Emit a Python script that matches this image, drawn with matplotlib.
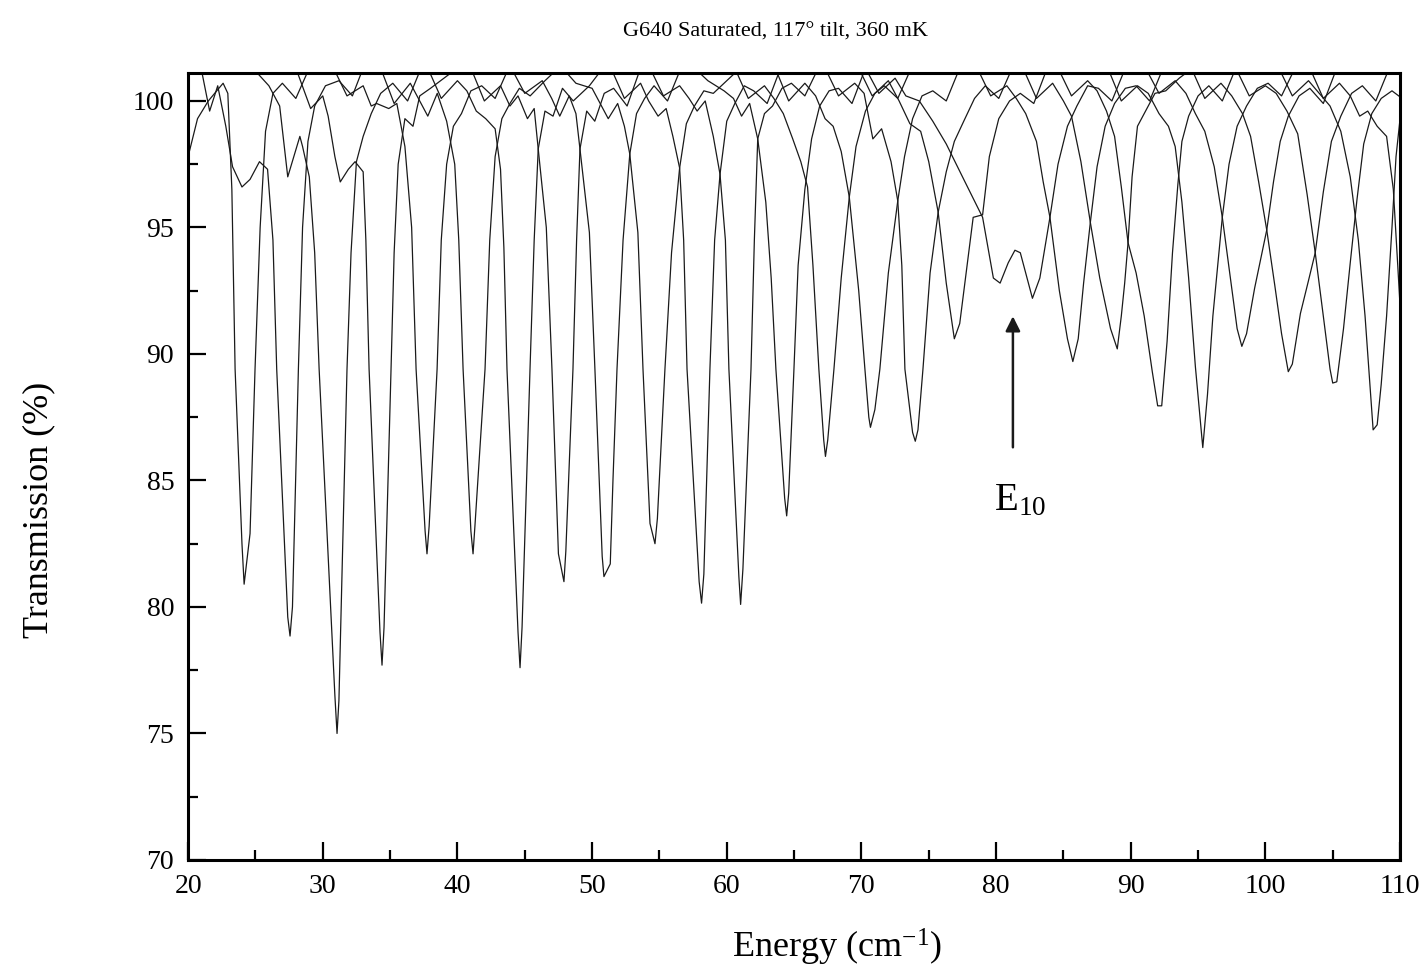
import matplotlib
matplotlib.use("Agg")
import matplotlib.pyplot as plt
from matplotlib.ticker import MultipleLocator

# transmission spectra, one dip per spectrum (energy in cm^-1, transmission in %)
x01 = [20.0, 20.7, 21.5, 22.6, 22.95, 23.25, 23.49, 24.0, 24.16, 24.6, 24.97, 25.35, 25.75, 26.3, 27.0, 28.0, 29.0]
y01 = [97.8, 99.3, 100.0, 100.7, 100.3, 96.5, 89.4, 82.5, 80.9, 82.9, 89.4, 95.0, 98.8, 100.3, 100.7, 100.1, 101.3]

x02 = [21.0, 21.6, 22.2, 22.8, 23.3, 24.0, 24.6, 25.3, 25.9, 26.3, 26.58, 27.4, 27.57, 27.75, 28.19, 28.5, 28.9, 29.4,
       30.2, 31.2, 32.2, 33.0]
y02 = [101.2, 99.6, 100.6, 99.0, 97.4, 96.6, 96.9, 97.6, 97.3, 94.5, 89.4, 79.6, 78.85, 80.0, 89.4, 95.0, 98.4, 99.8,
       100.6, 100.8, 100.2, 101.3]

x03 = [24.8, 26.0, 26.8, 27.4, 28.3, 28.5, 29.0, 29.4, 29.73, 30.9, 31.06, 31.2, 31.8, 32.1, 32.5, 33.0, 33.6, 34.3,
       35.2, 36.3, 37.3]
y03 = [101.3, 100.6, 99.8, 97.0, 98.6, 98.2, 97.0, 94.0, 89.4, 76.5, 75.0, 76.3, 89.4, 94.0, 97.6, 98.6, 99.5, 100.3,
       100.7, 100.0, 101.3]

x04 = [28.0, 29.1, 30.0, 30.4, 30.9, 31.3, 31.9, 32.4, 33.0, 33.2, 33.44, 34.25, 34.4, 34.55, 35.07, 35.3, 35.6, 36.1,
       36.7, 37.2, 38.0, 39.0, 40.0]
y04 = [101.3, 99.7, 100.2, 99.4, 97.8, 96.8, 97.3, 97.6, 97.2, 94.5, 89.4, 79.0, 77.7, 79.2, 89.4, 94.0, 97.5, 99.3,
       99.0, 100.2, 100.5, 100.9, 101.3]

x05 = [30.8, 31.8, 33.0, 33.6, 34.0, 34.9, 35.5, 36.1, 36.6, 36.93, 37.6, 37.74, 37.9, 38.49, 38.8, 39.2, 39.7, 40.3,
       41.0, 41.8, 42.8, 43.8]
y05 = [101.3, 100.2, 100.6, 99.8, 99.9, 99.7, 99.9, 98.2, 95.0, 89.4, 83.0, 82.1, 83.2, 89.4, 94.5, 97.5, 99.0, 99.5,
       100.4, 100.6, 100.1, 101.3]

x06 = [34.3, 35.3, 36.5, 37.2, 37.8, 38.5, 39.2, 39.8, 40.1, 40.42, 41.0, 41.16, 41.3, 42.05, 42.4, 42.8, 43.3, 43.9,
       44.6, 45.4, 46.5, 47.5]
y06 = [101.3, 99.9, 100.7, 100.0, 99.4, 100.3, 99.2, 97.5, 94.5, 89.4, 83.0, 82.1, 83.2, 89.4, 94.5, 97.8, 99.3, 99.9,
       100.5, 100.2, 100.8, 101.3]

x07 = [37.8, 38.8, 40.0, 40.7, 41.4, 42.1, 42.8, 43.2, 43.45, 43.68, 44.5, 44.65, 44.8, 45.39, 45.7, 46.0, 46.5, 47.1,
       47.8, 48.6, 49.8, 50.8]
y07 = [101.3, 100.1, 100.8, 100.4, 99.6, 99.3, 98.9, 97.3, 94.2, 89.4, 79.0, 77.6, 79.2, 89.4, 94.5, 98.1, 99.6, 99.4,
       100.5, 100.0, 100.6, 101.3]

x08 = [41.0, 42.0, 43.2, 43.9, 44.5, 45.2, 45.7, 46.0, 46.6, 47.02, 47.5, 47.91, 48.05, 48.58, 48.85, 49.1, 49.6, 50.2,
       50.9, 51.6, 52.6, 53.6]
y08 = [101.3, 100.0, 100.6, 99.8, 100.2, 99.3, 99.7, 98.1, 95.0, 89.4, 82.1, 81.0, 82.2, 89.4, 94.5, 98.1, 99.6, 99.2,
       100.3, 100.5, 99.8, 101.3]

x09 = [44.0, 45.0, 46.3, 47.0, 47.6, 48.3, 48.8, 49.1, 49.8, 50.21, 50.75, 50.88, 51.35, 51.55, 51.85, 52.3, 52.8, 53.3,
       53.9, 54.6, 55.6, 56.6]
y09 = [101.3, 100.3, 100.8, 100.1, 99.4, 100.2, 99.5, 98.1, 94.8, 89.4, 82.0, 81.2, 81.7, 85.0, 89.4, 94.5, 97.9, 99.5,
       100.1, 100.6, 100.0, 101.3]

x10 = [47.8, 48.8, 50.0, 50.6, 51.2, 51.9, 52.4, 52.8, 53.4, 53.78, 54.3, 54.67, 54.85, 55.41, 55.9, 56.5, 57.0, 57.6,
       58.3, 59.0, 60.0, 61.0]
y10 = [101.3, 100.7, 100.5, 99.9, 99.3, 99.9, 99.0, 97.9, 94.8, 89.4, 83.3, 82.5, 83.5, 89.4, 94.0, 97.35, 99.1, 99.8,
       100.4, 100.3, 100.8, 101.3]

x11 = [51.4, 52.4, 53.6, 54.2, 54.9, 55.5, 56.0, 56.5, 56.8, 57.05, 57.95, 58.13, 58.3, 58.75, 59.1, 59.5, 60.0, 60.6,
       61.3, 62.0, 63.0, 64.0]
y11 = [101.3, 100.1, 100.7, 100.0, 99.4, 99.7, 98.6, 97.35, 94.5, 89.4, 81.0, 80.15, 81.3, 89.4, 94.5, 97.1, 99.2, 99.9,
       100.6, 100.4, 99.9, 101.3]

x12 = [54.3, 55.3, 56.5, 57.2, 57.8, 58.4, 59.0, 59.5, 59.9, 60.16, 60.9, 61.03, 61.2, 61.8, 62.05, 62.3, 62.8, 63.4,
       64.1, 64.8, 65.8, 66.8]
y12 = [101.3, 100.2, 100.6, 100.1, 99.6, 100.0, 98.6, 97.1, 94.5, 89.4, 81.2, 80.1, 81.5, 89.4, 94.5, 98.5, 99.5, 99.8,
       100.5, 100.7, 100.2, 101.3]

x13 = [57.6, 58.6, 59.8, 60.5, 61.1, 61.7, 62.3, 62.9, 63.3, 63.65, 64.3, 64.45, 64.6, 64.99, 65.3, 65.8, 66.3, 66.9,
       67.6, 68.3, 69.3, 70.3]
y13 = [101.3, 100.8, 100.4, 100.1, 99.4, 99.9, 98.5, 96.0, 93.0, 89.4, 84.3, 83.6, 84.5, 89.4, 93.5, 96.5, 98.5, 99.8,
       100.4, 100.5, 99.9, 101.3]

x14 = [60.6, 61.6, 62.8, 63.5, 64.2, 64.9, 65.5, 66.0, 66.4, 66.84, 67.2, 67.33, 67.5, 67.96, 68.5, 69.1, 69.6, 70.3,
       71.0, 71.7, 72.7, 73.7]
y14 = [101.3, 100.1, 100.6, 100.1, 99.5, 98.5, 97.6, 96.6, 93.5, 89.4, 86.6, 85.95, 86.6, 89.4, 93.0, 96.2, 98.2, 99.6,
       100.3, 100.6, 100.1, 101.3]

x15 = [63.6, 64.6, 65.8, 66.6, 67.3, 67.9, 68.5, 69.1, 69.8, 70.26, 70.55, 70.67, 71.0, 71.37, 72.0, 72.7, 73.2, 73.8,
       74.5, 75.3, 76.3, 77.3]
y15 = [101.3, 100.0, 100.7, 100.2, 99.3, 99.0, 98.0, 96.2, 92.5, 89.4, 87.5, 87.1, 87.8, 89.4, 93.2, 96.05, 97.8, 99.3,
       100.2, 100.4, 100.0, 101.3]

x16 = [67.3, 68.3, 69.5, 70.2, 70.85, 71.5, 72.2, 72.7, 73.0, 73.23, 73.8, 74.0, 74.2, 74.57, 75.1, 75.7, 76.3, 76.9,
       77.6, 78.4, 79.2, 80.2, 81.2]
y16 = [101.3, 100.2, 100.7, 100.3, 98.5, 98.9, 97.6, 96.05, 93.5, 89.4, 86.9, 86.55, 87.0, 89.4, 93.2, 95.6, 97.2, 98.4,
       99.2, 100.1, 100.6, 100.1, 101.3]

x17 = [69.8, 70.8, 72.0, 72.8, 73.6, 74.4, 75.0, 75.7, 76.3, 76.9, 77.3, 77.8, 78.3, 79.0, 79.5, 80.2, 81.0, 81.8,
       82.8, 83.8]
y17 = [101.3, 100.2, 100.8, 100.0, 99.1, 98.8, 97.6, 95.6, 92.8, 90.6, 91.2, 93.3, 95.4, 95.5, 97.8, 99.3, 100.0, 100.3,
       99.9, 101.3]

# the E10 spectrum
x18 = [70.3, 71.3, 72.5, 73.3, 74.3, 75.3, 76.3, 77.6, 79.0, 79.8, 80.3, 80.9, 81.4, 81.8, 82.7, 83.25, 84.0, 84.6,
       85.3, 86.0, 86.8, 87.6, 88.6, 89.6]
y18 = [101.3, 100.3, 100.9, 100.2, 100.0, 99.2, 98.3, 96.9, 95.4, 93.0, 92.8, 93.6, 94.1, 94.0, 92.2, 93.0, 95.4, 97.5,
       99.0, 99.8, 100.6, 100.5, 100.0, 101.3]

x19 = [78.6, 79.6, 80.8, 81.5, 82.2, 83.0, 83.5, 84.0, 84.7, 85.3, 85.7, 86.1, 86.5, 87.0, 87.5, 88.1, 88.8, 89.6,
       90.4, 91.4, 92.4]
y19 = [101.3, 100.2, 100.6, 100.1, 99.5, 98.4, 96.8, 95.4, 92.5, 90.6, 89.7, 90.6, 92.8, 95.2, 97.4, 99.0, 99.9, 100.5,
       100.6, 100.0, 101.3]

x20 = [82.0, 83.0, 84.2, 85.0, 85.6, 86.3, 87.0, 87.7, 88.5, 89.0, 89.3, 89.55, 89.8, 90.1, 90.5, 91.1, 91.8, 92.6,
       93.6, 94.6]
y20 = [101.3, 100.1, 100.7, 100.0, 99.4, 97.6, 95.2, 93.0, 91.0, 90.2, 91.5, 92.8, 94.4, 97.0, 99.0, 99.6, 100.3, 100.4,
       100.9, 101.3]

x21 = [84.6, 85.6, 86.8, 87.5, 88.2, 88.8, 89.3, 89.8, 90.4, 91.0, 91.6, 92.0, 92.3, 92.7, 93.1, 93.5, 93.8, 94.3,
       95.0, 95.8, 96.8, 97.8]
y21 = [101.3, 100.2, 100.8, 100.4, 99.6, 98.6, 96.6, 94.4, 93.2, 91.5, 89.3, 87.95, 87.95, 90.5, 94.0, 96.7, 98.4, 99.4,
       100.2, 100.6, 100.0, 101.3]

x22 = [88.3, 89.3, 90.5, 91.3, 92.1, 92.8, 93.3, 93.8, 94.3, 94.8, 95.35, 95.7, 96.1, 96.8, 97.3, 97.9, 98.6, 99.4,
       100.2, 101.2, 102.2]
y22 = [101.3, 100.0, 100.6, 100.3, 99.5, 99.0, 98.2, 96.0, 93.0, 89.5, 86.3, 88.4, 91.5, 95.4, 97.5, 99.0, 99.8, 100.5,
       100.7, 100.2, 101.3]

x23 = [91.1, 92.1, 93.3, 94.1, 94.8, 95.5, 96.2, 96.8, 97.4, 97.9, 98.25, 98.6, 99.2, 100.1, 100.6, 101.1, 101.7, 102.5,
       103.3, 104.3, 105.3]
y23 = [101.3, 100.3, 100.8, 100.3, 99.5, 98.8, 97.4, 95.4, 93.0, 91.0, 90.3, 90.8, 92.6, 94.9, 96.8, 98.4, 99.4, 100.2,
       100.5, 99.9, 101.3]

x24 = [94.5, 95.5, 96.7, 97.5, 98.3, 98.9, 99.5, 100.1, 100.7, 101.2, 101.7, 102.0, 102.6, 103.2, 103.7, 104.3, 104.9,
       105.6, 106.4, 107.2, 108.2, 109.2]
y24 = [101.3, 100.1, 100.7, 100.2, 99.5, 98.6, 96.8, 94.9, 92.7, 90.8, 89.3, 89.6, 91.6, 92.9, 94.0, 96.4, 98.4,
       99.4, 100.3, 100.6, 100.0, 101.3]

x25 = [97.8, 98.8, 100.0, 100.8, 101.6, 102.4, 103.1, 103.7, 104.3, 104.8, 105.0, 105.3, 105.8, 106.3, 106.8, 107.3,
       107.9, 108.6, 109.4, 110.4]
y25 = [101.3, 100.2, 100.6, 100.3, 99.6, 98.7, 96.3, 94.0, 91.5, 89.4, 88.85, 88.9, 91.0, 93.6, 96.1, 98.3,
       99.5, 100.1, 100.4, 100.0]

x26 = [101.0, 102.0, 103.2, 104.0, 104.8, 105.6, 106.3, 106.9, 107.4, 107.8, 108.0, 108.3, 108.6, 109.0, 109.4, 109.7,
       110.0]
y26 = [101.3, 100.2, 100.8, 100.3, 99.8, 98.8, 97.0, 94.5, 91.5, 88.5, 87.0, 87.2, 88.8, 91.5, 95.0, 97.8, 99.3]

x27 = [103.3, 104.3, 105.5, 106.3, 107.0, 107.6, 108.3, 109.0, 109.5, 109.85, 110.2]
y27 = [101.3, 100.1, 100.7, 100.2, 99.4, 99.6, 99.0, 98.6, 96.5, 93.3, 90.0]

spectra = [(x01, y01), (x02, y02), (x03, y03), (x04, y04), (x05, y05), (x06, y06),
           (x07, y07), (x08, y08), (x09, y09), (x10, y10), (x11, y11), (x12, y12),
           (x13, y13), (x14, y14), (x15, y15), (x16, y16), (x17, y17), (x18, y18),
           (x19, y19), (x20, y20), (x21, y21), (x22, y22), (x23, y23), (x24, y24),
           (x25, y25), (x26, y26), (x27, y27)]

# E10 marker
arrow_x = 81.25
arrow_from = 86.2
arrow_to = 91.6
label_xy = (81.8, 84.2)

plt.rcParams['font.family'] = ['Liberation Serif', 'DejaVu Serif']

fig = plt.figure(figsize=(14.25, 9.75), dpi=100)
ax = fig.add_axes([0.132, 0.118, 0.8505, 0.807])

for xs, ys in spectra:
    ax.plot(xs, ys, color='#1a1a1a', lw=0.9)

ax.set_xlim(20, 110)
ax.set_ylim(70, 101.1)

ax.xaxis.set_major_locator(MultipleLocator(10))
ax.xaxis.set_minor_locator(MultipleLocator(5))
ax.yaxis.set_major_locator(MultipleLocator(5))
ax.yaxis.set_minor_locator(MultipleLocator(2.5))
ax.tick_params(which='both', direction='in', top=False, right=False, width=1.6,
               labelsize=20)
ax.tick_params(which='major', length=13, pad=10)
ax.tick_params(which='minor', length=7)
for s in ax.spines.values():
    s.set_linewidth(2.2)

ax.annotate('', xy=(arrow_x, arrow_to), xytext=(arrow_x, arrow_from),
            arrowprops=dict(arrowstyle='-|>', color='#1a1a1a', lw=1.8,
                            mutation_scale=22))
ax.text(label_xy[0], label_xy[1], r'E$\mathregular{_{10}}$', fontsize=28,
        ha='center', va='center')

fig.text(0.544, 0.967, 'G640 Saturated, 117\u00b0 tilt, 360 mK', fontsize=16,
         ha='center', va='center')
fig.text(0.587, 0.028, r'Energy (cm$\mathregular{^{-1}}$)', fontsize=26,
         ha='center', va='center')
fig.text(0.027, 0.477, 'Transmission (%)', fontsize=26, rotation=90,
         ha='center', va='center')

fig.savefig('out.png', dpi=100)
